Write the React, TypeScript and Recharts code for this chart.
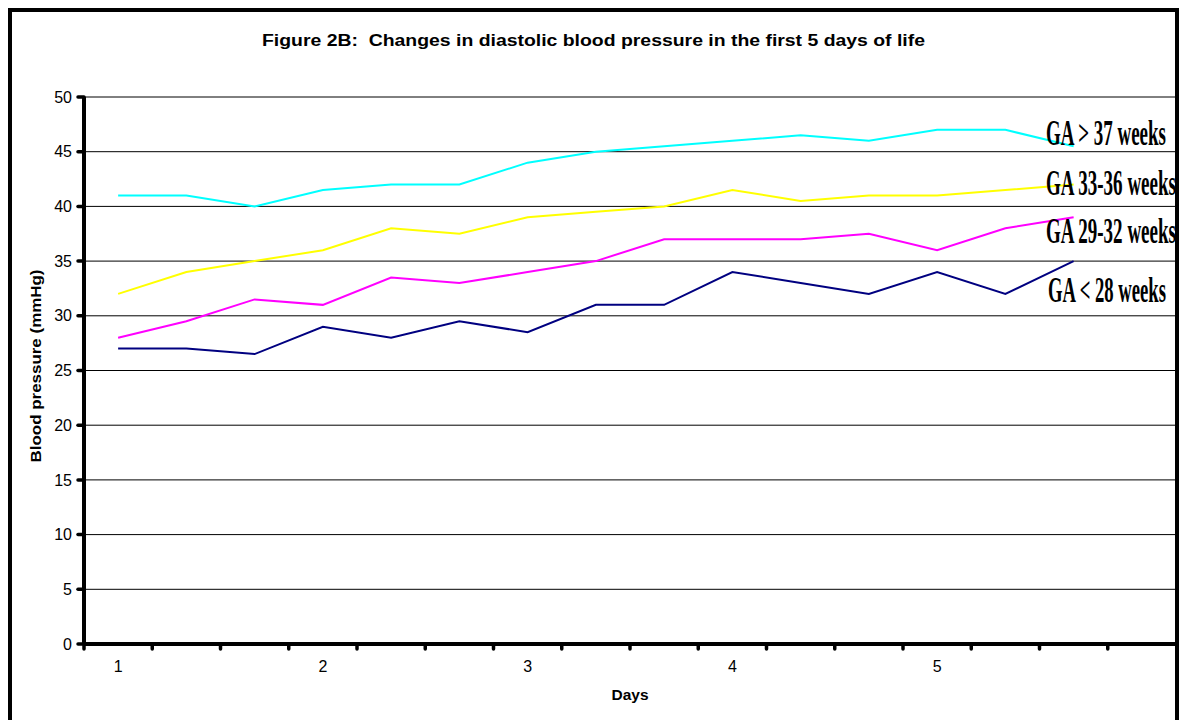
import { CartesianGrid, Line, LineChart, XAxis, YAxis } from "recharts";

// one slot per reading, three readings a day; the last slot stays empty
const dayLabels = ["1", "", "", "2", "", "", "3", "", "", "4", "", "", "5", "", "", ""];
const gaOver37 = [41, 41, 40, 41.5, 42, 42, 44, 45, 45.5, 46, 46.5, 46, 47, 47, 45.5];
const ga33to36 = [32, 34, 35, 36, 38, 37.5, 39, 39.5, 40, 41.5, 40.5, 41, 41, 41.5, 42];
const ga29to32 = [28, 29.5, 31.5, 31, 33.5, 33, 34, 35, 37, 37, 37, 37.5, 36, 38, 39];
const gaUnder28 = [27, 27, 26.5, 29, 28, 29.5, 28.5, 31, 31, 34, 33, 32, 34, 32, 35];
const yTicks = [0, 5, 10, 15, 20, 25, 30, 35, 40, 45, 50];

const seriesNames = ["GA > 37 weeks", "GA 33-36 weeks", "GA 29-32 weeks", "GA < 28 weeks"];

const data = dayLabels.map((_, i) => ({
  slot: i,
  over37: gaOver37[i] ?? null,
  w33to36: ga33to36[i] ?? null,
  w29to32: ga29to32[i] ?? null,
  under28: gaUnder28[i] ?? null,
}));

// tick marks on slot edges, labels in the middle of the labelled slots
const xTicks: number[] = [];
dayLabels.forEach((label, i) => {
  xTicks.push(i - 0.5);
  if (label) xTicks.push(i);
});

const SANS = 'Arial, "Liberation Sans", sans-serif';
const SERIF = '"Times New Roman", "Liberation Serif", serif';

function DayTick(props: any) {
  const { x, y, payload } = props;
  const v = payload.value as number;
  if (Number.isInteger(v)) {
    return (
      <text x={x} y={y + 28} textAnchor="middle" fontSize={16} fontFamily={SANS} fill="#000">
        {dayLabels[v]}
      </text>
    );
  }
  return <line x1={x} y1={y} x2={x} y2={y + 5} stroke="#000" strokeWidth={3.5} strokeLinecap="round" />;
}

const seriesLabels = [
  { text: seriesNames[0], x: 1034, y: 133, len: 120 },
  { text: seriesNames[1], x: 1034, y: 183, len: 130 },
  { text: seriesNames[2], x: 1034, y: 231, len: 130 },
  { text: seriesNames[3], x: 1036, y: 290, len: 118 },
];

export default function App() {
  return (
    <div style={{ padding: 8 }}>
      <style>{"html,body{margin:0;overflow:hidden;background:#fff}"}</style>
      <div
        style={{
          position: "relative",
          width: 1163,
          height: 760,
          border: "4px solid #000",
          overflow: "hidden",
          background: "#fff",
        }}
      >
        <div style={{ position: "absolute", left: 0, top: 0 }}>
          <LineChart width={1164} height={700} data={data} margin={{ top: 85, right: 0, bottom: 38, left: 0 }}>
            <CartesianGrid vertical={false} stroke="#000" strokeWidth={1} />
            <XAxis
              dataKey="slot"
              type="number"
              domain={[-0.5, dayLabels.length - 0.5]}
              ticks={xTicks}
              interval={0}
              height={30}
              tickSize={0}
              tickMargin={0}
              tickLine={false}
              axisLine={{ stroke: "#000", strokeWidth: 4 }}
              tick={<DayTick />}
            />
            <YAxis
              domain={[0, 50]}
              ticks={yTicks}
              width={72}
              tickSize={6}
              tickMargin={6}
              axisLine={{ stroke: "#000", strokeWidth: 4 }}
              tickLine={{ stroke: "#000", strokeWidth: 3.5, strokeLinecap: "round" }}
              tick={{ fill: "#000", fontSize: 16, fontFamily: SANS }}
            />
            <Line dataKey="over37" stroke="#00FFFF" strokeWidth={2} dot={false} isAnimationActive={false} />
            <Line dataKey="w33to36" stroke="#FFFF00" strokeWidth={2} dot={false} isAnimationActive={false} />
            <Line dataKey="w29to32" stroke="#FF00FF" strokeWidth={2} dot={false} isAnimationActive={false} />
            <Line dataKey="under28" stroke="#000080" strokeWidth={2} dot={false} isAnimationActive={false} />
          </LineChart>
        </div>
        <svg
          width={1163}
          height={760}
          style={{ position: "absolute", left: 0, top: 0, pointerEvents: "none" }}
        >
          <text
            x={581.5}
            y={34}
            textAnchor="middle"
            fontSize={16}
            fontWeight="bold"
            fontFamily={SANS}
            textLength={663}
            lengthAdjust="spacingAndGlyphs"
            style={{ whiteSpace: "pre" }}
          >
            Figure 2B:  Changes in diastolic blood pressure in the first 5 days of life
          </text>
          <text
            x={618}
            y={688}
            textAnchor="middle"
            fontSize={15}
            fontWeight="bold"
            fontFamily={SANS}
            textLength={37}
            lengthAdjust="spacingAndGlyphs"
          >
            Days
          </text>
          <text
            transform="translate(29,354) rotate(-90)"
            textAnchor="middle"
            fontSize={15}
            fontWeight="bold"
            fontFamily={SANS}
            textLength={193}
            lengthAdjust="spacingAndGlyphs"
          >
            Blood pressure (mmHg)
          </text>
          {seriesLabels.map((s) => (
            <text
              key={s.text}
              x={s.x}
              y={s.y}
              fontSize={36}
              fontWeight="bold"
              fontFamily={SERIF}
              textLength={s.len}
              lengthAdjust="spacingAndGlyphs"
            >
              {s.text}
            </text>
          ))}
        </svg>
      </div>
    </div>
  );
}
